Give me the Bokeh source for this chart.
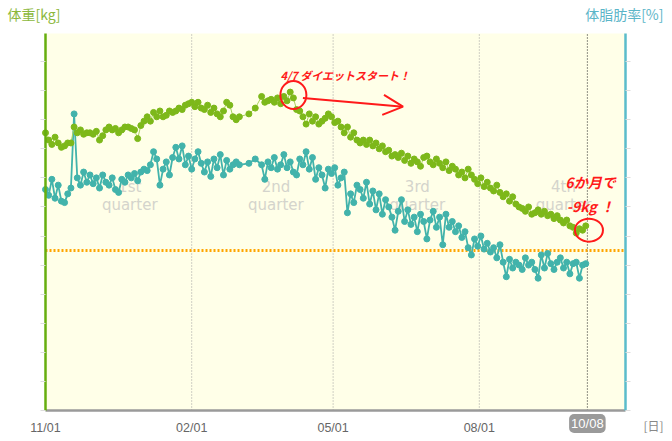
import pandas as pd
from bokeh.plotting import figure
from bokeh.models import (Range1d, LinearAxis, FixedTicker, DatetimeTickFormatter,
                          CustomJSTickFormatter, Label, Arrow, OpenHead, BoxAnnotation)
from bokeh.core.properties import value
from bokeh.embed import file_html
from bokeh.resources import INLINE

nan = float("nan")

start_date = "2012-11-01"
end_date = "2013-11-01"
today = "2013-10-08"
diet_start = "2013-04-06"
target_kg = 61.0
kg_min, kg_max = 50.0, 75.93
fat_min, fat_max = 10.0, 35.93

# body weight [kg], one measurement every 2 days from 11/01 (nan = no measurement)
weight_kg = [
    69.1, 68.6, 68.3, 68.8, 68.4, 68.1, 68.2, 68.4, 68.4, 69.5,
    69.1, 69.3, 69.0, 69.1, 69.1, 69.0, 69.2, 68.6, 68.9, 69.3,
    69.5, 69.3, 69.4, 69.1, 69.3, 69.5, 69.5, 69.4, 69.3, 68.7,
    69.6, 69.9, 70.2, 69.9, 70.5, 70.2, 70.6, 70.2, 70.3, 70.6,
    70.5, 70.6, 70.8, 70.7, 71.0, 71.1, 71.2, 70.9, 71.2, 70.8,
    70.7, 71.0, 70.5, 70.8, 70.4, 70.2, 70.6, 71.2, 71.0, 70.2,
    70.0, 70.2, nan, nan, 70.4, nan, 70.8, nan, 71.6, 71.2,
    71.3, 71.4, 71.2, 71.5, 71.1, 71.6, 71.3, 71.9, 71.5, 70.7,
    70.6, 70.2, 69.7, 70.4, 69.9, 70.2, 69.7, 69.9, 70.1, 70.4,
    70.2, 69.8, 69.9, 69.5, 69.1, 69.5, 68.8, 69.1, 68.6, 68.4,
    68.6, 68.3, 68.6, 68.2, 68.4, 68.0, 68.2, 67.8, 67.9, 67.5,
    67.6, 67.4, 67.7, 67.2, 67.5, 67.0, 67.3, 67.1, 66.8, 67.4,
    67.5, 67.1, 66.9, 67.3, 67.0, 66.7, 67.1, 66.5, 66.8, 66.6,
    66.2, 66.4, 66.0, 66.6, 66.2, 65.9, 65.6, 66.0, 65.4, 65.7,
    65.3, 65.1, 65.5, 65.0, 64.7, 64.9, 64.4, 64.7, 64.2, 64.0,
    63.9, 63.7, 64.0, 63.5, 63.6, 63.8, 63.5, 63.7, 63.4, 63.5,
    63.2, 63.4, 63.1, 62.9, 63.1, 62.7, 62.6, 62.2, 62.5, 62.4,
    62.7,
]

# body fat [%]
body_fat_pct = [
    25.2, 24.8, 25.9, 24.6, 25.5, 24.4, 24.3, 24.9, 25.3, 30.4,
    26.0, 25.5, 26.4, 25.7, 26.2, 25.6, 26.0, 25.3, 26.2, 25.7,
    25.5, 26.0, 25.2, 25.0, 25.9, 25.7, 26.2, 26.0, 26.3, 25.8,
    26.4, 26.6, 26.5, 26.9, 27.8, 27.3, 25.5, 26.6, 27.1, 26.2,
    27.4, 28.1, 27.3, 28.2, 26.9, 27.5, 26.6, 27.3, 27.8, 27.0,
    26.4, 27.1, 26.1, 27.3, 26.7, 27.6, 26.2, 27.2, 26.6, 26.9,
    27.1, 26.9, nan, nan, 27.0, nan, 27.3, nan, 26.9, 25.9,
    27.1, 26.7, 27.4, 26.6, 26.9, 27.6, 26.7, 27.1, 26.4, 26.2,
    27.3, 26.9, 27.8, 26.6, 27.4, 25.9, 26.7, 26.2, 25.3, 26.6,
    26.3, 26.7, 25.5, 26.0, 26.4, 23.6, 24.9, 24.3, 25.5, 25.2,
    24.6, 25.7, 24.2, 25.1, 23.8, 24.9, 23.5, 24.5, 24.0, 23.3,
    22.4, 23.7, 24.5, 23.0, 23.8, 22.8, 23.3, 22.3, 23.5, 23.0,
    21.8, 23.1, 23.7, 22.6, 23.3, 21.4, 23.5, 22.6, 23.0, 22.3,
    22.7, 21.9, 22.3, 21.2, 20.7, 21.8, 21.3, 22.0, 21.1, 21.5,
    20.9, 21.2, 20.5, 21.4, 20.2, 19.2, 20.4, 19.8, 20.2, 20.0,
    19.7, 20.5, 20.0, 20.2, 19.7, 19.1, 20.7, 19.8, 20.8, 20.1,
    19.7, 20.2, 20.5, 19.8, 20.2, 19.4, 20.1, 20.2, 19.1, 20.0,
    20.1,
]

tick_dates = ["2012-11-01", "2013-02-01", "2013-05-01", "2013-08-01"]
quarter_names = ["1st", "2nd", "3rd", "4th"]

DAY = 86400000.0


def ms(d):
    return pd.Timestamp(d).value / 1e6


dates = pd.date_range(start_date, periods=len(weight_kg), freq="2D")
df = pd.DataFrame({"date": dates, "w": weight_kg, "f": body_fat_pct})
dw = df.dropna(subset=["w"])
dfat = df.dropna(subset=["f"])

# canvas layout (pixels): plot area from x=45..625, y=33..410 on a 664x433 canvas
W, H = 664, 433
L, R, T, B = 45, 625, 33, 410
px_day = (R - L) / ((ms(end_date) - ms(start_date)) / DAY)
px_kg = (B - T) / (kg_max - kg_min)
x0 = ms(start_date) - L / px_day * DAY
x1 = ms(start_date) + (W - L) / px_day * DAY
y0 = kg_min - (H - B) / px_kg
y1 = kg_min + B / px_kg

GREEN = "#7DB81A"
GREEN_LINE = "#A9D15C"
TEAL = "#42B3AB"
RED = "#FF1A1A"

p = figure(width=W, height=H, x_axis_type="datetime",
           x_range=Range1d(x0, x1), y_range=Range1d(y0, y1),
           output_backend="svg", toolbar_location=None, min_border=0)
p.extra_y_ranges = {"fat": Range1d(fat_min - (H - B) / px_kg, fat_min + B / px_kg)}
p.background_fill_color = "white"
p.border_fill_color = "white"
p.outline_line_color = None
p.xgrid.visible = False
p.ygrid.visible = False

# plot area background
p.add_layout(BoxAnnotation(left=ms(start_date), right=ms(end_date), bottom=kg_min,
                           top=kg_max, fill_color="#FFFFE8", fill_alpha=1,
                           line_color=None, level="underlay"))

blank = CustomJSTickFormatter(code="return ''")

# x axis
xa = p.xaxis[0]
xa.fixed_location = kg_min
xa.bounds = (ms(start_date), ms(end_date))
xa.ticker = FixedTicker(ticks=[ms(d) for d in tick_dates])
xa.formatter = DatetimeTickFormatter(days="%m/%d", months="%m/%d", years="%m/%d")
xa.axis_line_color = "#9A9A9A"
xa.axis_line_width = 2.5
xa.major_tick_line_color = None
xa.major_tick_out = 0
xa.major_tick_in = 0
xa.minor_tick_line_color = None
xa.major_label_standoff = 10
xa.major_label_text_color = "#666666"
xa.major_label_text_font = "Liberation Sans"
xa.major_label_text_font_size = "12.5px"

# left axis (weight)
ya = p.yaxis[0]
ya.fixed_location = ms(start_date)
ya.bounds = (kg_min, kg_max)
ya.ticker = FixedTicker(ticks=list(range(50, 76, 2)))
ya.formatter = blank
ya.axis_line_color = "#66AE0E"
ya.axis_line_width = 2.5
ya.major_tick_out = 5
ya.major_tick_in = 0
ya.major_tick_line_color = "#DDDDDD"
ya.minor_tick_line_color = None

# right axis (body fat)
ra = LinearAxis(y_range_name="fat", ticker=FixedTicker(ticks=list(range(10, 36, 2))),
                formatter=blank, fixed_location=ms(end_date), bounds=(fat_min, fat_max))
ra.axis_line_color = "#5BBCCB"
ra.axis_line_width = 2.5
ra.major_tick_out = 5
ra.major_tick_in = 0
ra.major_tick_line_color = "#DDDDDD"
ra.minor_tick_line_color = None
p.add_layout(ra, "right")

# vertical quarter lines, today line, target line
grid_x = [pd.Timestamp(d) for d in tick_dates[1:]]
p.segment(x0=grid_x, y0=[kg_min] * 3, x1=grid_x, y1=[kg_max] * 3,
          line_color="#A0A0A0", line_dash="1 2", line_width=1)
p.segment(x0=[pd.Timestamp(today)], y0=[kg_min], x1=[pd.Timestamp(today)], y1=[kg_max],
          line_color="#222222", line_dash="1 2", line_width=1)
p.segment(x0=[pd.Timestamp(start_date)], y0=[target_kg], x1=[pd.Timestamp(end_date)],
          y1=[target_kg], line_color="#FFA500", line_dash="2 2", line_width=3)

# quarter labels
q_x = [pd.Timestamp(d) + pd.Timedelta(days=53) for d in tick_dates]
p.text(x=q_x, y=[65.4] * 4, text=quarter_names, text_align="center",
       text_baseline="middle", text_color="#D4D4CC", text_font_size="15px",
       text_font=value("DejaVu Sans"))
p.text(x=q_x, y=[64.1] * 4, text=["quarter"] * 4, text_align="center",
       text_baseline="middle", text_color="#D4D4CC", text_font_size="15px",
       text_font=value("DejaVu Sans"))

# series
p.line(dfat["date"], dfat["f"], y_range_name="fat", line_color=TEAL, line_width=1.8)
p.scatter(dfat["date"], dfat["f"], y_range_name="fat", size=6, fill_color=TEAL,
          line_color=TEAL)
p.line(dw["date"], dw["w"], line_color=GREEN_LINE, line_width=1)
p.scatter(dw["date"], dw["w"], size=6, fill_color=GREEN, line_color=GREEN)

# red hand annotations
p.ellipse(x=[pd.Timestamp(diet_start)], y=[71.7], width=26, height=28,
          width_units="screen", height_units="screen", fill_color=None,
          line_color=RED, line_width=2)
p.ellipse(x=[pd.Timestamp("2013-10-09")], y=[62.4], width=28, height=23,
          width_units="screen", height_units="screen", fill_color=None,
          line_color=RED, line_width=2)
p.add_layout(Arrow(end=OpenHead(size=20, line_color=RED, line_width=2),
                   x_start=ms("2013-04-12"), y_start=71.5,
                   x_end=ms("2013-06-14"), y_end=70.9,
                   line_color=RED, line_width=2))

jp = "Noto Sans CJK JP"


def label(x, y, text, **kw):
    p.add_layout(Label(x=x, y=H - y, x_units="screen", y_units="screen", text=text,
                       text_baseline="middle", **kw))


label(280, 74, "4/7 ダイエットスタート！", text_color=RED, text_font=jp,
      text_font_style="bold italic", text_font_size="11px", text_align="left")
label(590, 181, "6か月で", text_color=RED, text_font=jp,
      text_font_style="bold italic", text_font_size="14px", text_align="center")
label(590, 205, "-9kg ！", text_color=RED, text_font=jp,
      text_font_style="bold italic", text_font_size="14px", text_align="center")
label(7, 13, "体重[kg]", text_color="#8CB83C", text_font=jp,
      text_font_size="14px", text_align="left")
label(663, 13, "体脂肪率[%]", text_color="#5BB5C8", text_font=jp,
      text_font_size="14px", text_align="right")
label(643, 425, "[日]", text_color="#888888", text_font=jp,
      text_font_size="12px", text_align="left")
p.add_layout(Label(x=ms(today), y=H - 423, x_units="data", y_units="screen",
                   text="10/08", text_color="white", text_font="Liberation Sans",
                   text_font_size="13px", text_baseline="middle", text_align="center",
                   background_fill_color="#9A9A9A", border_radius=5, padding=2))

open("out.html", "w").write(file_html(p, INLINE))
